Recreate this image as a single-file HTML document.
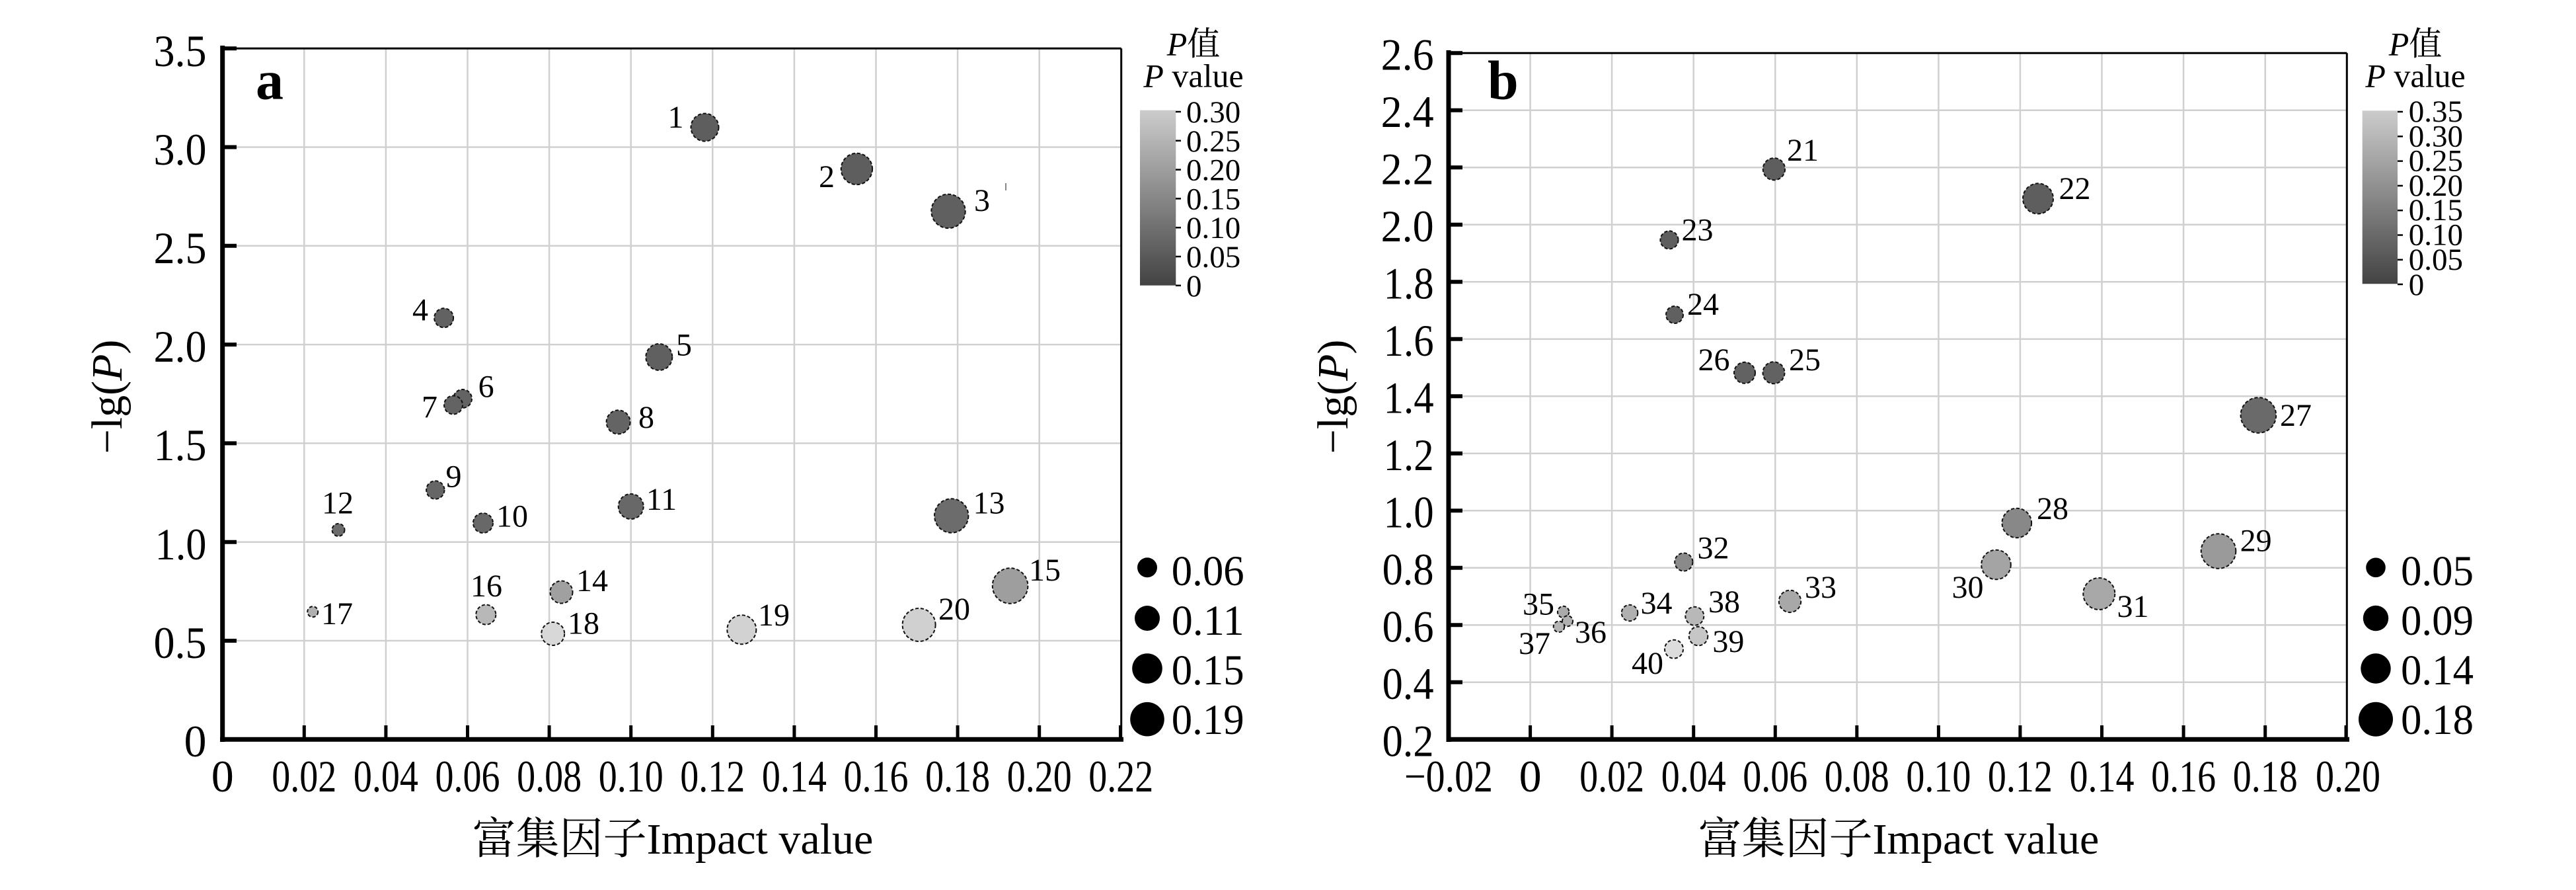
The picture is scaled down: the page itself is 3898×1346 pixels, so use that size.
<!DOCTYPE html>
<html><head><meta charset="utf-8">
<style>
html,body{margin:0;padding:0;background:#fff;}
svg{display:block;}
text{font-family:"Liberation Serif","Noto Serif CJK SC",serif;fill:#000;}
.tk{font-size:68px;}
.pl{font-size:48px;}
.cb{font-size:47px;}
.lg{font-size:65px;}
.pt{stroke:#111;stroke-width:2;stroke-dasharray:5,3;}
.gr{stroke:#d0d0d0;stroke-width:2.5;}
</style></head>
<body>
<svg width="3898" height="1346" viewBox="0 0 3898 1346" xmlns="http://www.w3.org/2000/svg">
<defs>
<linearGradient id="cg" x1="0" y1="0" x2="0" y2="1">
<stop offset="0" stop-color="#cccccc"/>
<stop offset="1" stop-color="#434343"/>
</linearGradient>
</defs>
<rect width="3898" height="1346" fill="#fff"/>

<!-- ================= PANEL A ================= -->
<g class="gr">
<line x1="460.3" y1="73.3" x2="460.3" y2="1118.3"/>
<line x1="583.9" y1="73.3" x2="583.9" y2="1118.3"/>
<line x1="707.5" y1="73.3" x2="707.5" y2="1118.3"/>
<line x1="831.1" y1="73.3" x2="831.1" y2="1118.3"/>
<line x1="954.7" y1="73.3" x2="954.7" y2="1118.3"/>
<line x1="1078.3" y1="73.3" x2="1078.3" y2="1118.3"/>
<line x1="1201.9" y1="73.3" x2="1201.9" y2="1118.3"/>
<line x1="1325.5" y1="73.3" x2="1325.5" y2="1118.3"/>
<line x1="1449.1" y1="73.3" x2="1449.1" y2="1118.3"/>
<line x1="1572.7" y1="73.3" x2="1572.7" y2="1118.3"/>
<line x1="336.7" y1="969" x2="1696.7" y2="969"/>
<line x1="336.7" y1="819.7" x2="1696.7" y2="819.7"/>
<line x1="336.7" y1="670.4" x2="1696.7" y2="670.4"/>
<line x1="336.7" y1="521.1" x2="1696.7" y2="521.1"/>
<line x1="336.7" y1="371.8" x2="1696.7" y2="371.8"/>
<line x1="336.7" y1="222.5" x2="1696.7" y2="222.5"/>
</g>
<!-- axes a -->
<line x1="336.7" y1="73.3" x2="1696.7" y2="73.3" stroke="#000" stroke-width="3"/>
<line x1="1696.7" y1="73.3" x2="1696.7" y2="1118.3" stroke="#000" stroke-width="3"/>
<line x1="336.7" y1="69" x2="336.7" y2="1122" stroke="#000" stroke-width="7"/>
<line x1="333" y1="1118.3" x2="1700" y2="1118.3" stroke="#000" stroke-width="7"/>
<g stroke="#000" stroke-width="6">
<line x1="336.7" y1="969" x2="358" y2="969"/>
<line x1="336.7" y1="819.7" x2="358" y2="819.7"/>
<line x1="336.7" y1="670.4" x2="358" y2="670.4"/>
<line x1="336.7" y1="521.1" x2="358" y2="521.1"/>
<line x1="336.7" y1="371.8" x2="358" y2="371.8"/>
<line x1="336.7" y1="222.5" x2="358" y2="222.5"/>
<line x1="336.7" y1="73.3" x2="358" y2="73.3"/>
</g>
<g stroke="#000" stroke-width="5">
<line x1="460.3" y1="1097" x2="460.3" y2="1118"/>
<line x1="583.9" y1="1097" x2="583.9" y2="1118"/>
<line x1="707.5" y1="1097" x2="707.5" y2="1118"/>
<line x1="831.1" y1="1097" x2="831.1" y2="1118"/>
<line x1="954.7" y1="1097" x2="954.7" y2="1118"/>
<line x1="1078.3" y1="1097" x2="1078.3" y2="1118"/>
<line x1="1201.9" y1="1097" x2="1201.9" y2="1118"/>
<line x1="1325.5" y1="1097" x2="1325.5" y2="1118"/>
<line x1="1449.1" y1="1097" x2="1449.1" y2="1118"/>
<line x1="1572.7" y1="1097" x2="1572.7" y2="1118"/>
<line x1="1695.5" y1="1097" x2="1695.5" y2="1118"/>
</g>
<!-- y tick labels a -->
<g class="tk" text-anchor="end">
<text x="312.5" y="1144">0</text>
<text x="312.5" y="995" textLength="80" lengthAdjust="spacingAndGlyphs">0.5</text>
<text x="312.5" y="846" textLength="78" lengthAdjust="spacingAndGlyphs">1.0</text>
<text x="312.5" y="696" textLength="80" lengthAdjust="spacingAndGlyphs">1.5</text>
<text x="312.5" y="547" textLength="80" lengthAdjust="spacingAndGlyphs">2.0</text>
<text x="312.5" y="398" textLength="80" lengthAdjust="spacingAndGlyphs">2.5</text>
<text x="312.5" y="249" textLength="80" lengthAdjust="spacingAndGlyphs">3.0</text>
<text x="312.5" y="100" textLength="80" lengthAdjust="spacingAndGlyphs">3.5</text>
</g>
<!-- x tick labels a -->
<g class="tk" text-anchor="middle">
<text x="336.7" y="1197">0</text>
<text x="460.3" y="1197" textLength="98" lengthAdjust="spacingAndGlyphs">0.02</text>
<text x="583.9" y="1197" textLength="98" lengthAdjust="spacingAndGlyphs">0.04</text>
<text x="707.5" y="1197" textLength="98" lengthAdjust="spacingAndGlyphs">0.06</text>
<text x="831.1" y="1197" textLength="98" lengthAdjust="spacingAndGlyphs">0.08</text>
<text x="954.7" y="1197" textLength="98" lengthAdjust="spacingAndGlyphs">0.10</text>
<text x="1078.3" y="1197" textLength="98" lengthAdjust="spacingAndGlyphs">0.12</text>
<text x="1201.9" y="1197" textLength="98" lengthAdjust="spacingAndGlyphs">0.14</text>
<text x="1325.5" y="1197" textLength="98" lengthAdjust="spacingAndGlyphs">0.16</text>
<text x="1449.1" y="1197" textLength="98" lengthAdjust="spacingAndGlyphs">0.18</text>
<text x="1572.7" y="1197" textLength="98" lengthAdjust="spacingAndGlyphs">0.20</text>
<text x="1696.3" y="1197" textLength="98" lengthAdjust="spacingAndGlyphs">0.22</text>
</g>
<text x="1018" y="1291" font-size="66" text-anchor="middle">富集因子Impact value</text>
<text transform="translate(184,600) rotate(-90)" font-size="66" text-anchor="middle">−lg(<tspan font-style="italic">P</tspan>)</text>
<text x="387" y="149.6" font-size="84" font-weight="bold">a</text>

<!-- points a -->
<g class="pt">
<circle cx="1066.5" cy="192.6" r="21" fill="#5e5e5e"/>
<circle cx="1296.4" cy="255.5" r="23.7" fill="#5e5e5e"/>
<circle cx="1435" cy="319.4" r="25.7" fill="#606060"/>
<circle cx="671.6" cy="480.8" r="14.5" fill="#626262"/>
<circle cx="997.3" cy="540" r="20" fill="#606060"/>
<circle cx="700" cy="603" r="14" fill="#636363"/>
<circle cx="686" cy="612.5" r="14" fill="#636363"/>
<circle cx="935.6" cy="638.4" r="18" fill="#646464"/>
<circle cx="658.8" cy="741" r="13.7" fill="#666666"/>
<circle cx="731" cy="791" r="15" fill="#686868"/>
<circle cx="954.7" cy="766" r="19" fill="#686868"/>
<circle cx="512" cy="801.4" r="9.5" fill="#6c6c6c"/>
<circle cx="1439.7" cy="780" r="25.7" fill="#6c6c6c"/>
<circle cx="849.5" cy="895.5" r="17" fill="#a0a0a0"/>
<circle cx="1528.6" cy="886" r="26.8" fill="#9e9e9e"/>
<circle cx="735.3" cy="929.6" r="15" fill="#b8b8b8"/>
<circle cx="473.2" cy="925.2" r="8" fill="#b0b0b0"/>
<circle cx="836.7" cy="958.5" r="17.5" fill="#d8d8d8"/>
<circle cx="1122.3" cy="952.3" r="22" fill="#d2d2d2"/>
<circle cx="1390.6" cy="945" r="25" fill="#d0d0d0"/>
</g>
<line x1="1522" y1="277" x2="1522" y2="288" stroke="#888" stroke-width="2"/>
<!-- labels a -->
<g class="pl" text-anchor="middle">
<text x="1022.5" y="193">1</text>
<text x="1251" y="283">2</text>
<text x="1486" y="319">3</text>
<text x="636" y="484.4">4</text>
<text x="1035" y="537.7">5</text>
<text x="735.6" y="600.4">6</text>
<text x="650" y="631.7">7</text>
<text x="978" y="647">8</text>
<text x="686.5" y="736.5">9</text>
<text x="775" y="796.5">10</text>
<text x="1001" y="771">11</text>
<text x="511" y="776.5">12</text>
<text x="1496.5" y="776.4">13</text>
<text x="896" y="894">14</text>
<text x="1581" y="878">15</text>
<text x="736" y="902">16</text>
<text x="510" y="943.8">17</text>
<text x="883" y="958.5">18</text>
<text x="1171" y="946">19</text>
<text x="1444" y="937">20</text>
</g>
<!-- colorbar a -->
<text x="1806" y="83.3" font-size="50" text-anchor="middle"><tspan font-style="italic">P</tspan>值</text>
<text x="1806" y="131.7" font-size="50" text-anchor="middle"><tspan font-style="italic">P</tspan> value</text>
<rect x="1725" y="166.7" width="54.3" height="265" fill="url(#cg)"/>
<g stroke="#000" stroke-width="2.5">
<line x1="1779" y1="169" x2="1787" y2="169"/>
<line x1="1779" y1="212.8" x2="1787" y2="212.8"/>
<line x1="1779" y1="256.6" x2="1787" y2="256.6"/>
<line x1="1779" y1="300.4" x2="1787" y2="300.4"/>
<line x1="1779" y1="344.2" x2="1787" y2="344.2"/>
<line x1="1779" y1="388" x2="1787" y2="388"/>
<line x1="1779" y1="431.8" x2="1787" y2="431.8"/>
</g>
<g class="cb">
<text x="1795" y="185">0.30</text>
<text x="1795" y="228.8">0.25</text>
<text x="1795" y="272.6">0.20</text>
<text x="1795" y="316.4">0.15</text>
<text x="1795" y="360.2">0.10</text>
<text x="1795" y="404">0.05</text>
<text x="1795" y="448">0</text>
</g>
<!-- size legend a -->
<circle cx="1736" cy="858.3" r="15" fill="#000"/>
<circle cx="1736" cy="935" r="19" fill="#000"/>
<circle cx="1736" cy="1011" r="22.8" fill="#000"/>
<circle cx="1736" cy="1087.7" r="25.8" fill="#000"/>
<g class="lg">
<text x="1772.7" y="885" textLength="110" lengthAdjust="spacingAndGlyphs">0.06</text>
<text x="1772.7" y="960" textLength="110" lengthAdjust="spacingAndGlyphs">0.11</text>
<text x="1772.7" y="1035" textLength="110" lengthAdjust="spacingAndGlyphs">0.15</text>
<text x="1772.7" y="1110" textLength="110" lengthAdjust="spacingAndGlyphs">0.19</text>
</g>

<!-- ================= PANEL B ================= -->
<g class="gr">
<line x1="2315.6" y1="80.3" x2="2315.6" y2="1118.3"/>
<line x1="2439.1" y1="80.3" x2="2439.1" y2="1118.3"/>
<line x1="2562.7" y1="80.3" x2="2562.7" y2="1118.3"/>
<line x1="2686.3" y1="80.3" x2="2686.3" y2="1118.3"/>
<line x1="2809.8" y1="80.3" x2="2809.8" y2="1118.3"/>
<line x1="2933.4" y1="80.3" x2="2933.4" y2="1118.3"/>
<line x1="3056.9" y1="80.3" x2="3056.9" y2="1118.3"/>
<line x1="3180.5" y1="80.3" x2="3180.5" y2="1118.3"/>
<line x1="3304.1" y1="80.3" x2="3304.1" y2="1118.3"/>
<line x1="3427.7" y1="80.3" x2="3427.7" y2="1118.3"/>
<line x1="2192" y1="1031.8" x2="3551.3" y2="1031.8"/>
<line x1="2192" y1="945.3" x2="3551.3" y2="945.3"/>
<line x1="2192" y1="858.8" x2="3551.3" y2="858.8"/>
<line x1="2192" y1="772.3" x2="3551.3" y2="772.3"/>
<line x1="2192" y1="685.8" x2="3551.3" y2="685.8"/>
<line x1="2192" y1="599.3" x2="3551.3" y2="599.3"/>
<line x1="2192" y1="512.8" x2="3551.3" y2="512.8"/>
<line x1="2192" y1="426.3" x2="3551.3" y2="426.3"/>
<line x1="2192" y1="339.8" x2="3551.3" y2="339.8"/>
<line x1="2192" y1="253.3" x2="3551.3" y2="253.3"/>
<line x1="2192" y1="166.8" x2="3551.3" y2="166.8"/>
</g>
<line x1="2192" y1="80.3" x2="3551.3" y2="80.3" stroke="#000" stroke-width="3"/>
<line x1="3551.3" y1="80.3" x2="3551.3" y2="1118.3" stroke="#000" stroke-width="3"/>
<line x1="2192" y1="76" x2="2192" y2="1122" stroke="#000" stroke-width="7"/>
<line x1="2188.5" y1="1118.3" x2="3555" y2="1118.3" stroke="#000" stroke-width="7"/>
<g stroke="#000" stroke-width="6">
<line x1="2192" y1="1031.8" x2="2213" y2="1031.8"/>
<line x1="2192" y1="945.3" x2="2213" y2="945.3"/>
<line x1="2192" y1="858.8" x2="2213" y2="858.8"/>
<line x1="2192" y1="772.3" x2="2213" y2="772.3"/>
<line x1="2192" y1="685.8" x2="2213" y2="685.8"/>
<line x1="2192" y1="599.3" x2="2213" y2="599.3"/>
<line x1="2192" y1="512.8" x2="2213" y2="512.8"/>
<line x1="2192" y1="426.3" x2="2213" y2="426.3"/>
<line x1="2192" y1="339.8" x2="2213" y2="339.8"/>
<line x1="2192" y1="253.3" x2="2213" y2="253.3"/>
<line x1="2192" y1="166.8" x2="2213" y2="166.8"/>
<line x1="2192" y1="80.3" x2="2213" y2="80.3"/>
</g>
<g stroke="#000" stroke-width="5">
<line x1="2315.6" y1="1097" x2="2315.6" y2="1118"/>
<line x1="2439.1" y1="1097" x2="2439.1" y2="1118"/>
<line x1="2562.7" y1="1097" x2="2562.7" y2="1118"/>
<line x1="2686.3" y1="1097" x2="2686.3" y2="1118"/>
<line x1="2809.8" y1="1097" x2="2809.8" y2="1118"/>
<line x1="2933.4" y1="1097" x2="2933.4" y2="1118"/>
<line x1="3056.9" y1="1097" x2="3056.9" y2="1118"/>
<line x1="3180.5" y1="1097" x2="3180.5" y2="1118"/>
<line x1="3304.1" y1="1097" x2="3304.1" y2="1118"/>
<line x1="3427.7" y1="1097" x2="3427.7" y2="1118"/>
<line x1="3550" y1="1097" x2="3550" y2="1118"/>
</g>
<g class="tk" text-anchor="end">
<text x="2169.6" y="1143.5" textLength="78" lengthAdjust="spacingAndGlyphs">0.2</text>
<text x="2169.6" y="1057" textLength="78" lengthAdjust="spacingAndGlyphs">0.4</text>
<text x="2169.6" y="970.5" textLength="78" lengthAdjust="spacingAndGlyphs">0.6</text>
<text x="2169.6" y="884" textLength="78" lengthAdjust="spacingAndGlyphs">0.8</text>
<text x="2169.6" y="797.5" textLength="76" lengthAdjust="spacingAndGlyphs">1.0</text>
<text x="2169.6" y="711" textLength="76" lengthAdjust="spacingAndGlyphs">1.2</text>
<text x="2169.6" y="624.5" textLength="76" lengthAdjust="spacingAndGlyphs">1.4</text>
<text x="2169.6" y="538" textLength="76" lengthAdjust="spacingAndGlyphs">1.6</text>
<text x="2169.6" y="451.5" textLength="76" lengthAdjust="spacingAndGlyphs">1.8</text>
<text x="2169.6" y="365" textLength="80" lengthAdjust="spacingAndGlyphs">2.0</text>
<text x="2169.6" y="278.5" textLength="80" lengthAdjust="spacingAndGlyphs">2.2</text>
<text x="2169.6" y="192" textLength="80" lengthAdjust="spacingAndGlyphs">2.4</text>
<text x="2169.6" y="105.5" textLength="80" lengthAdjust="spacingAndGlyphs">2.6</text>
</g>
<g class="tk" text-anchor="middle">
<text x="2192" y="1197" textLength="134" lengthAdjust="spacingAndGlyphs">−0.02</text>
<text x="2315.6" y="1197">0</text>
<text x="2439.1" y="1197" textLength="98" lengthAdjust="spacingAndGlyphs">0.02</text>
<text x="2562.7" y="1197" textLength="98" lengthAdjust="spacingAndGlyphs">0.04</text>
<text x="2686.3" y="1197" textLength="98" lengthAdjust="spacingAndGlyphs">0.06</text>
<text x="2809.8" y="1197" textLength="98" lengthAdjust="spacingAndGlyphs">0.08</text>
<text x="2933.4" y="1197" textLength="98" lengthAdjust="spacingAndGlyphs">0.10</text>
<text x="3056.9" y="1197" textLength="98" lengthAdjust="spacingAndGlyphs">0.12</text>
<text x="3180.5" y="1197" textLength="98" lengthAdjust="spacingAndGlyphs">0.14</text>
<text x="3304.1" y="1197" textLength="98" lengthAdjust="spacingAndGlyphs">0.16</text>
<text x="3427.7" y="1197" textLength="98" lengthAdjust="spacingAndGlyphs">0.18</text>
<text x="3553" y="1197" textLength="98" lengthAdjust="spacingAndGlyphs">0.20</text>
</g>
<text x="2873" y="1291" font-size="66" text-anchor="middle">富集因子Impact value</text>
<text transform="translate(2039,600) rotate(-90)" font-size="66" text-anchor="middle">−lg(<tspan font-style="italic">P</tspan>)</text>
<text x="2251" y="149.5" font-size="84" font-weight="bold">b</text>

<g class="pt">
<circle cx="2684.4" cy="255.7" r="16.7" fill="#5e5e5e"/>
<circle cx="3084" cy="300.4" r="23" fill="#5e5e5e"/>
<circle cx="2526" cy="362.9" r="13.6" fill="#5e5e5e"/>
<circle cx="2534" cy="476" r="13" fill="#606060"/>
<circle cx="2640" cy="563.8" r="16" fill="#626262"/>
<circle cx="2684" cy="563.8" r="16.5" fill="#626262"/>
<circle cx="3417.4" cy="628" r="26.8" fill="#6a6a6a"/>
<circle cx="3051.8" cy="791" r="22.3" fill="#888888"/>
<circle cx="3357" cy="833.5" r="26.3" fill="#9a9a9a"/>
<circle cx="3020.5" cy="854" r="22.3" fill="#a4a4a4"/>
<circle cx="3176.3" cy="898" r="24" fill="#a8a8a8"/>
<circle cx="2547.8" cy="850" r="13.6" fill="#8a8a8a"/>
<circle cx="2708.5" cy="909.4" r="16.7" fill="#a8a8a8"/>
<circle cx="2466" cy="927" r="12.3" fill="#b0b0b0"/>
<circle cx="2365.6" cy="925.5" r="8.7" fill="#aaaaaa"/>
<circle cx="2372" cy="939.3" r="8" fill="#b0b0b0"/>
<circle cx="2359" cy="947.8" r="8.3" fill="#b4b4b4"/>
<circle cx="2564.3" cy="931.7" r="14" fill="#b8b8b8"/>
<circle cx="2570" cy="962" r="14.3" fill="#c6c6c6"/>
<circle cx="2533" cy="981.7" r="14" fill="#dcdcdc"/>
</g>
<g class="pl" text-anchor="middle">
<text x="2728" y="243">21</text>
<text x="3139.5" y="301">22</text>
<text x="2568.5" y="363.7">23</text>
<text x="2577" y="476">24</text>
<text x="2731" y="560">25</text>
<text x="2593.5" y="560">26</text>
<text x="3474" y="644">27</text>
<text x="3106" y="785">28</text>
<text x="3413.6" y="833.5">29</text>
<text x="2977.5" y="904">30</text>
<text x="3227.5" y="933">31</text>
<text x="2592.5" y="844.7">32</text>
<text x="2755" y="904">33</text>
<text x="2506.5" y="928">34</text>
<text x="2328" y="929.5">35</text>
<text x="2407" y="972">36</text>
<text x="2322" y="988.9">37</text>
<text x="2609" y="926">38</text>
<text x="2615.4" y="986">39</text>
<text x="2493" y="1018.8">40</text>
</g>
<!-- colorbar b -->
<text x="3655" y="83.3" font-size="50" text-anchor="middle"><tspan font-style="italic">P</tspan>值</text>
<text x="3655" y="131.7" font-size="50" text-anchor="middle"><tspan font-style="italic">P</tspan> value</text>
<rect x="3574.7" y="167.3" width="53.3" height="262" fill="url(#cg)"/>
<g stroke="#000" stroke-width="2.5">
<line x1="3628" y1="169" x2="3636" y2="169"/>
<line x1="3628" y1="206.3" x2="3636" y2="206.3"/>
<line x1="3628" y1="243.6" x2="3636" y2="243.6"/>
<line x1="3628" y1="280.9" x2="3636" y2="280.9"/>
<line x1="3628" y1="318.2" x2="3636" y2="318.2"/>
<line x1="3628" y1="355.5" x2="3636" y2="355.5"/>
<line x1="3628" y1="392.8" x2="3636" y2="392.8"/>
<line x1="3628" y1="430" x2="3636" y2="430"/>
</g>
<g class="cb">
<text x="3644.7" y="184">0.35</text>
<text x="3644.7" y="221.3">0.30</text>
<text x="3644.7" y="258.6">0.25</text>
<text x="3644.7" y="295.9">0.20</text>
<text x="3644.7" y="333.2">0.15</text>
<text x="3644.7" y="370.5">0.10</text>
<text x="3644.7" y="407.8">0.05</text>
<text x="3644.7" y="446">0</text>
</g>
<circle cx="3595" cy="858.3" r="14.8" fill="#000"/>
<circle cx="3595" cy="935" r="19.2" fill="#000"/>
<circle cx="3595" cy="1011" r="22.7" fill="#000"/>
<circle cx="3595" cy="1087.7" r="26" fill="#000"/>
<g class="lg">
<text x="3633" y="885" textLength="110" lengthAdjust="spacingAndGlyphs">0.05</text>
<text x="3633" y="960" textLength="110" lengthAdjust="spacingAndGlyphs">0.09</text>
<text x="3633" y="1035" textLength="110" lengthAdjust="spacingAndGlyphs">0.14</text>
<text x="3633" y="1110" textLength="110" lengthAdjust="spacingAndGlyphs">0.18</text>
</g>
</svg>
</body></html>
